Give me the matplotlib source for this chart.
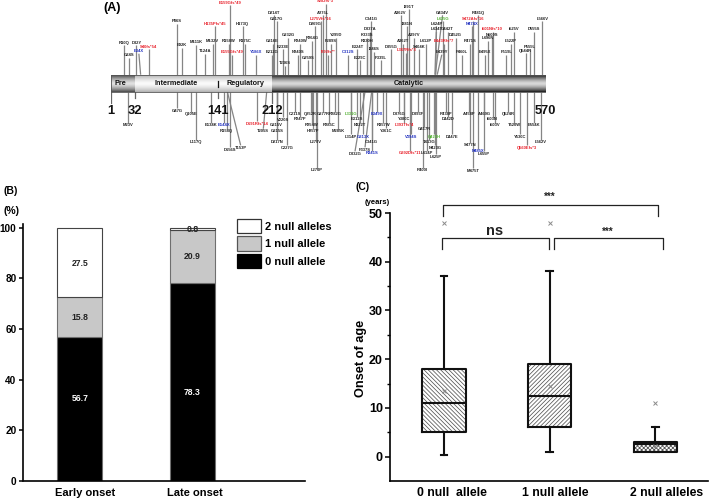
"""Three-panel figure: mutation map, null allele fractions, onset age boxplot."""
import matplotlib
matplotlib.use("Agg")
import matplotlib.pyplot as plt
import numpy as np
from matplotlib.patches import Patch

plt.rcParams["font.family"] = ["Liberation Sans", "DejaVu Sans"]
plt.rcParams["font.weight"] = "bold"
plt.rcParams["axes.labelweight"] = "bold"
plt.rcParams["hatch.linewidth"] = 0.55

W, H = 709, 501

# panel A: domains and residue numbers
DOMAIN_NAMES = ["Pre", "Intermediate", "Regulatory", "Catalytic"]
DOMAIN_EDGES = [1, 32, 141, 212, 570]
EDGE_TICKS = [11, 6, 6, 11, 0]

# variants above the bar: name, residue, stem height
TOP_NAMES = ["R10Q", "G24S", "D32Y", "E34X", "S40fs*54", "P86S", "E92K", "M111K", "T124A", "M132V",
             "H135Pfs*45", "R158W", "E159Gfs*49", "E155Gfs*49", "H173Q", "R175C", "Y186X", "D214T",
             "G217G", "G216E", "E212G", "G232G", "E233E", "T236S", "N240S", "R240W", "G259S", "R264G",
             "D269G", "L275Vfs*16", "A275L", "S282fs*3", "I292fs**", "F289S", "Y295D", "C312S", "E324T",
             "E329C", "R330H", "K333S", "D337A", "C341G", "I346S", "P339L", "D355G", "A362V", "A362T",
             "L367Rfs*3", "I391T", "I381N", "A397V", "S404K", "L412P", "L424P", "L434T", "G434V", "L435G",
             "G442T", "E443Rfs*7", "E439Y", "D452G", "P460L", "R471S", "S472Afs*16", "N474X", "R481Q",
             "E495X", "L496N", "N500S", "I501Nfs*10", "F519L", "L522P", "I525V", "Q544R", "P555L",
             "D555S", "L566V"]
TOP_AA = [18.5, 25, 34.2, 39.8, 50.3, 87, 93.5, 112.3, 124.5, 134,
          137.1, 155, 156.8, 159.4, 173.3, 176.4, 190.8, 214.4,
          217.9, 212.6, 211.7, 232.7, 225.7, 228.8, 245.3, 248.8, 259.3, 264.5,
          268, 276, 278, 282, 285.5, 288.5, 295.5, 311.7, 323.5,
          327, 335.7, 336.5, 340, 341.8, 345.7, 354, 368, 380, 382.8,
          387.6, 391, 389, 397.6, 404, 413, 425, 426, 425.5, 436,
          441.7, 437, 428, 452, 460, 471, 475, 474, 482,
          490, 494.5, 500, 500.6, 518.5, 524.6, 528.5, 544, 549.5,
          555, 565.6]
TOP_LEN = [29.4, 17, 29.4, 21, 25.4, 51, 27, 30, 20.7, 31,
           48.4, 31, 69.4, 20, 48.4, 31, 20, 59.4,
           53.7, 31, 20, 37, 25.4, 8.7, 20, 31, 14.4, 34,
           48.4, 53.7, 59.4, 71, 20, 31, 37, 20, 25.4,
           14.4, 31, 37, 42.7, 53.7, 22.7, 14.4, 25.4, 59.4, 31,
           22, 65.4, 48.4, 37, 25.4, 31, 48.4, 42.7, 59.4, 53.7,
           42.7, 31, 20, 37, 20, 31, 53.7, 48.4, 59.4,
           20, 34, 37, 42.7, 20, 31, 42.7, 21.4, 25.4,
           42.7, 53.7]
TOP_BENT = {"E34X": 37.5, "L424P": 427, "L434T": 427, "G434V": 435, "E439Y": 434}

# variants below the bar
BOT_NAMES = ["M23V", "G47G", "Q105E", "L117Q", "E134K", "E144X", "R158Q", "D156S", "T153P",
             "D191Rfs*14", "T205S", "G215V", "G215S", "D217N", "V220S", "C227G", "C211S", "R247P",
             "Q252R", "R254W", "H257P", "L270V", "L270P", "G277R", "R282G", "R285C", "M285K",
             "L331G", "E312S", "N322T", "L314P", "G313X", "C341G", "D332G", "F337S", "R341S",
             "E349X", "R357W", "Y361C", "D376G", "Y380C", "L393Tfs*4", "D393F", "V394S",
             "G392Dfs*11", "G417R", "T413G", "Q423H", "L414P", "N423G", "L425P", "R400I",
             "R438P", "D442D", "D447E", "A458P", "S477N", "N485X", "L455P", "M475T", "A469G",
             "I503N", "I503V", "Q524R", "T520W", "Y530C", "Q560Efs*3", "E554K", "L562V"]
BOT_AA = [23.7, 87.8, 105.7, 112.3, 131.9, 149.3, 152.4, 156.8, 153.3,
          191.7, 204.8, 217.9, 218.7, 217.9, 226.6, 231.8, 241.4, 248,
          262.4, 264, 265.9, 269.3, 270.2, 279, 294.2, 286.4, 298.6,
          315, 322.6, 327, 315, 331, 342, 333.5, 342.2, 342.2,
          348.8, 357.5, 361, 378.4, 384, 385, 402.4, 393.7,
          392.4, 411, 417.7, 424.2, 414, 425, 426.4, 409,
          439.5, 442.6, 447, 470, 471, 481, 489, 475.3, 489.7,
          500.6, 503.6, 521, 528.5, 536.4, 545, 554.7, 563.4]
BOT_LEN = [31.3, 16.3, 20, 48.3, 31.3, 31, 37, 55.6, 53.6,
           29.6, 37, 31.3, 37, 48, 25.6, 53.6, 20, 25.3,
           20, 31.3, 37, 48, 76, 20, 20, 31.3, 37,
           20, 25.3, 31.3, 42.6, 42.6, 48, 59.6, 55.6, 59.3,
           20, 31.3, 36.6, 20, 25.3, 31.3, 20, 42.6,
           59.3, 35.3, 48, 42.6, 59.3, 53.6, 62.6, 76,
           20, 25.3, 42.6, 20, 51.3, 57, 59.6, 76.3, 20,
           25.3, 31.3, 20, 31.3, 42.6, 53.6, 31.3, 48]
BOT_BENT = {"T153P": 170.7, "T205S": 200.4, "D332G": 320.4, "F337S": 333.5, "L414P": 414}

RED = {"S40fs*54", "H135Pfs*45", "E159Gfs*49", "E155Gfs*49", "L275Vfs*16", "S282fs*3", "I292fs**",
       "L367Rfs*3", "E443Rfs*7", "S472Afs*16", "I501Nfs*10", "D191Rfs*14", "L393Tfs*4",
       "G392Dfs*11", "Q560Efs*3"}
BLUE = {"E34X", "Y186X", "C312S", "N474X", "E144X", "G313X", "R341S", "E349X", "V394S", "N485X"}
GREEN = {"L435G", "L331G", "Q423H"}

# panel B
GROUPS = ["Early onset", "Late onset"]
ALLELE_NAMES = ["0 null allele", "1 null allele", "2 null alleles"]
ZERO_NULL = [56.7, 78.3]
ONE_NULL = [15.8, 20.9]
TWO_NULL = [27.5, 0.8]

# panel C
BOX_NAMES = ["0 null  allele", "1 null allele", "2 null alleles"]
BOX_Q1 = [5, 6, 1]
BOX_MED = [11, 12.5, 2.6]
BOX_Q3 = [18, 19, 3]
BOX_LOW = [0.3, 1, 1]
BOX_HIGH = [37, 38, 6]
BOX_MEAN = [13.5, 14.5, 2.2]
BOX_OUT = [[48], [48], [11]]
BOX_HATCH = ["\\" * 8, "/" * 8, "x" * 8]


def px_axes(fig, left, right, top, bottom):
    return fig.add_axes([left / W, 1 - bottom / H, (right - left) / W, (bottom - top) / H])


def mut_color(name):
    if name in RED:
        return "#e8202a"
    if name in BLUE:
        return "#2030c0"
    if name in GREEN:
        return "#50b030"
    return "#222222"


def draw_stems(ax, names, aa, lengths, bent, base, sign):
    for name, x, length in zip(names, aa, lengths):
        tip = bent.get(name, x)
        y = base + sign * length
        ax.plot([x, tip], [base, y], color="#858585", lw=0.9, solid_capstyle="butt", zorder=1)
        ax.text(tip, y + sign * 0.5, name, ha="center", va="bottom" if sign < 0 else "top",
                fontsize=3, color=mut_color(name), zorder=3)


def draw_panel_a(fig):
    bar_top, bar_bottom = 74.7, 91.7
    ax = px_axes(fig, 111, 545.7, 0, 210)
    ax.axis("off")

    # shaded protein bar, light in the middle and dark along the edges
    t = np.abs(np.linspace(-1, 1, 40))[:, None] ** 1.5
    shades = [(0.88, 0.3), (0.98, 0.7), (0.98, 0.7), (0.85, 0.12)]
    for i, name in enumerate(DOMAIN_NAMES):
        start, end = DOMAIN_EDGES[i], DOMAIN_EDGES[i + 1]
        mid, edge = shades[i]
        ax.imshow(mid + (edge - mid) * t, cmap="gray", vmin=0, vmax=1, aspect="auto",
                  extent=(start, end, bar_bottom, bar_top), zorder=2)
        ax.text((start + end) / 2 - (3 if i == 0 else 0), (bar_top + bar_bottom) / 2, name,
                ha="center", va="center", fontsize=5.2, color="#111111", zorder=4)
    ax.plot([1, 570, 570, 1, 1], [bar_top, bar_top, bar_bottom, bar_bottom, bar_top],
            color="#555555", lw=0.6, zorder=3)
    ax.plot([141, 141], [bar_top + 6, bar_top + 12], color="#111111", lw=0.9, zorder=4)

    draw_stems(ax, TOP_NAMES, TOP_AA, TOP_LEN, TOP_BENT, bar_top, -1)
    draw_stems(ax, BOT_NAMES, BOT_AA, BOT_LEN, BOT_BENT, bar_bottom, 1)

    for pos, tick in zip(DOMAIN_EDGES, EDGE_TICKS):
        if tick:
            ax.plot([pos, pos], [bar_bottom, bar_bottom + tick], color="#666666", lw=0.9, zorder=1)
        ax.text(pos, 110.5, str(pos), ha="center", va="center", fontsize=9.3, color="#111111")

    ax.set_xlim(1, 570)
    ax.set_ylim(210, 0)
    fig.text(103 / W, 1 - 8.5 / H, "(A)", fontsize=9, va="center")


def draw_panel_b(fig):
    ax = px_axes(fig, 23.5, 305, 224.2, 481)
    x = np.arange(len(GROUPS))
    zero, one, two = np.array(ZERO_NULL), np.array(ONE_NULL), np.array(TWO_NULL)
    edge = "#6f6f6f"
    ax.bar(x, zero, 0.4, color="black", edgecolor=edge, lw=0.8)
    ax.bar(x, one, 0.4, bottom=zero, color="#c8c8c8", edgecolor=edge, lw=0.8)
    ax.bar(x, two, 0.4, bottom=zero + one, color="white", edgecolor="#444444", lw=0.8)

    for i in range(len(GROUPS)):
        ax.text(i, [32.6, 34.9][i], f"{zero[i]:.1f}", ha="center", va="center", fontsize=6.2, color="white")
        ax.text(i, zero[i] + one[i] / 2, f"{one[i]:.1f}", ha="center", va="center", fontsize=6.2, color="#222222")
        ax.text(i, zero[i] + one[i] + two[i] / 2 - 0.2, f"{two[i]:.1f}", ha="center", va="center",
                fontsize=6.2, color="#222222")

    ax.set_xlim(-0.502, 2.0)
    ax.set_ylim(0, 101.4)
    ax.set_yticks(np.arange(0, 101, 20))
    ax.set_xticks(x + np.array([0.045, 0.025]))
    ax.set_xticklabels(GROUPS)
    ax.tick_params(axis="x", length=0, labelsize=8, pad=5)
    ax.tick_params(axis="y", length=3, width=1.1, labelsize=7.2, pad=2)
    for side in ["top", "right"]:
        ax.spines[side].set_visible(False)
    for side in ["left", "bottom"]:
        ax.spines[side].set_linewidth(1.2)

    handles = [Patch(facecolor="white", edgecolor="#333333", lw=0.9),
               Patch(facecolor="#c8c8c8", edgecolor="#555555", lw=0.9),
               Patch(facecolor="black", edgecolor="black", lw=0.9)]
    ax.legend(handles, ALLELE_NAMES[::-1], loc="upper left", bbox_to_anchor=(0.758, 1.02),
              frameon=False, fontsize=8, borderpad=0, borderaxespad=0, handlelength=2.15,
              handleheight=1.6, labelspacing=0.28, handletextpad=0.35)

    fig.text(3 / W, 1 - 191 / H, "(B)", fontsize=7.5, va="center")
    fig.text(3 / W, 1 - 211 / H, "(%)", fontsize=7.5, va="center")


def bracket(ax, x0, x1, y, drop, text, text_y, size):
    ax.plot([x0, x0, x1, x1], [y - drop, y, y, y - drop], color="#222222", lw=0.9, clip_on=False)
    ax.text((x0 + x1) / 2 - 0.01, text_y, text, ha="center", va="center", fontsize=size, color="#222222")


def draw_panel_c(fig):
    ax = px_axes(fig, 390, 708, 213, 481)
    pos = [1, 2, 3]
    width = 0.41
    for i, p in enumerate(pos):
        ax.bar(p, BOX_Q3[i] - BOX_Q1[i], width, bottom=BOX_Q1[i], color="white",
               edgecolor="#555555", hatch=BOX_HATCH[i], lw=0, zorder=1)

    stats = [{"med": BOX_MED[i], "q1": BOX_Q1[i], "q3": BOX_Q3[i], "whislo": BOX_LOW[i],
              "whishi": BOX_HIGH[i], "mean": BOX_MEAN[i], "fliers": BOX_OUT[i]} for i in range(3)]
    line = {"color": "#111111", "linewidth": 1.5}
    marker = {"marker": "x", "markeredgecolor": "#8a8a8a", "markersize": 3, "markeredgewidth": 0.7,
              "linestyle": "none"}
    ax.bxp(stats, positions=pos, widths=width, capwidths=0.065, showmeans=True, manage_ticks=False,
           boxprops=line, medianprops=line, whiskerprops=line, capprops=line,
           flierprops=marker, meanprops=marker, zorder=3)

    ax.set_xlim(0.488, 3.5)
    ax.set_ylim(-5, 50)
    # the group names sit a little right of their boxes
    ax.set_xticks(np.array(pos) + np.array([0.07, 0.05, 0.105]))
    ax.set_xticklabels(BOX_NAMES)
    ax.set_yticks(np.arange(0, 51, 10))
    ax.set_yticks(np.arange(5, 50, 10), minor=True)
    ax.tick_params(axis="x", length=0, labelsize=8.8, pad=4)
    ax.tick_params(axis="y", which="major", length=3.6, width=1.1, labelsize=9, pad=1.5)
    ax.tick_params(axis="y", which="minor", length=2.2, width=1.0)
    ax.set_ylabel("Onset of age", fontsize=9.2, labelpad=1, y=0.459)
    for side in ["top", "right"]:
        ax.spines[side].set_visible(False)
    for side in ["left", "bottom"]:
        ax.spines[side].set_linewidth(1.2)

    bracket(ax, 0.994, 3.025, 51.7, 2.4, "***", 53.4, 7)
    bracket(ax, 0.985, 1.995, 44.8, 2.1, "ns", 46.3, 10.5)
    bracket(ax, 2.045, 3.07, 44.8, 2.1, "***", 46.2, 7)

    fig.text(355 / W, 1 - 187 / H, "(C)", fontsize=7.5, va="center")
    fig.text(365 / W, 1 - 202 / H, "(years)", fontsize=5.5, va="center")


fig = plt.figure(figsize=(W / 100, H / 100), dpi=100, facecolor="white")
draw_panel_a(fig)
draw_panel_b(fig)
draw_panel_c(fig)
fig.savefig("out.png", dpi=100, facecolor="white")
plt.close(fig)
